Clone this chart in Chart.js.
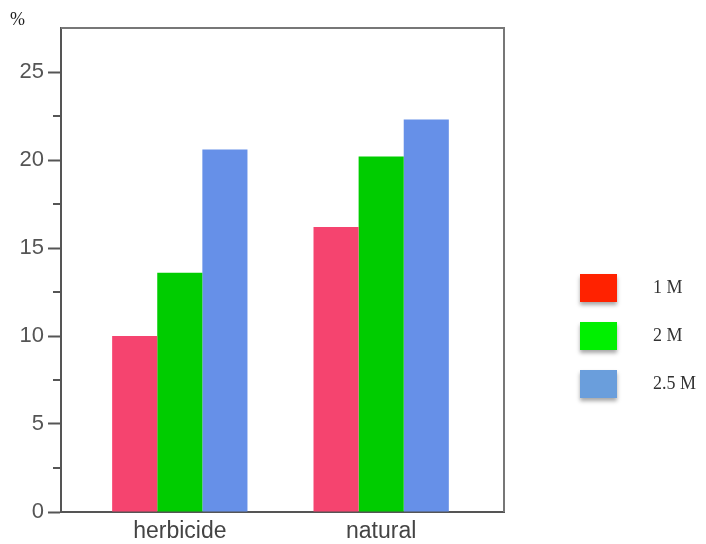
<!DOCTYPE html>
<html>
<head>
<meta charset="utf-8">
<script src="https://cdn.jsdelivr.net/npm/chart.js@4.4.1/dist/chart.umd.min.js"></script>
<style>
  html, body { margin: 0; padding: 0; background: #fff; }
  #wrap { width: 706px; height: 544px; }
</style>
</head>
<body>
<div id="wrap"><canvas id="myChart" width="706" height="544"></canvas></div>
<script>
// categorias e séries
const categorias = ['herbicide', 'natural'];
const series = ['1 M', '2 M', '2.5 M'];
const valores1M = [10.0, 16.2];
const valores2M = [13.6, 20.2];
const valores25M = [20.6, 22.3];
const coresBarras = ['#F5446F', '#00CC00', '#6690E8'];
const coresLegenda = ['#FF2200', '#00F000', '#6A9EDC'];
const yTicks = [0, 5, 10, 15, 20, 25];

function pontos(arr) {
    return arr.map((v, i) => ({ x: i, y: v }));
}

// plugin: moldura, ticks menores, "%" e legenda
const extras = {
    id: 'extras',
    afterDraw(chart) {
        const ctx = chart.ctx;
        const a = chart.chartArea;
        const y = chart.scales.y;
        ctx.save();
        // moldura superior e direita
        ctx.strokeStyle = '#777';
        ctx.lineWidth = 2;
        ctx.beginPath();
        ctx.moveTo(a.left, a.top);
        ctx.lineTo(a.right, a.top);
        ctx.lineTo(a.right, a.bottom);
        ctx.stroke();
        // ticks menores
        ctx.strokeStyle = '#555';
        ctx.lineWidth = 2;
        for (let v = 2.5; v < y.max; v += 5) {
            const py = Math.round(y.getPixelForValue(v));
            ctx.beginPath();
            ctx.moveTo(a.left - 8, py);
            ctx.lineTo(a.left, py);
            ctx.stroke();
        }
        // símbolo %
        ctx.fillStyle = '#222';
        ctx.font = '18px "Liberation Serif"';
        ctx.textBaseline = 'middle';
        ctx.textAlign = 'left';
        ctx.fillText('%', 10, 20);
        // legenda
        const lx = a.right + 76;
        series.forEach((s, i) => {
            const ly = 274 + i * 48;
            ctx.save();
            ctx.shadowColor = 'rgba(0,0,0,0.35)';
            ctx.shadowBlur = 4;
            ctx.shadowOffsetY = 3;
            ctx.fillStyle = coresLegenda[i];
            ctx.fillRect(lx, ly, 37, 28);
            ctx.restore();
            ctx.fillStyle = '#333';
            ctx.font = '18px "Liberation Serif"';
            ctx.fillText(s, lx + 73, ly + 14);
        });
        ctx.restore();
    }
};

const ctx = document.getElementById('myChart').getContext('2d');
const myChart = new Chart(ctx, {
    type: 'bar',
    data: {
        datasets: [
            { label: series[0], data: pontos(valores1M), backgroundColor: coresBarras[0] },
            { label: series[1], data: pontos(valores2M), backgroundColor: coresBarras[1] },
            { label: series[2], data: pontos(valores25M), backgroundColor: coresBarras[2] }
        ]
    },
    options: {
        responsive: false,
        animation: false,
        categoryPercentage: 0.672,
        barPercentage: 1,
        layout: {
            padding: { top: 28, right: 202, bottom: 0, left: 0 }
        },
        plugins: {
            legend: { display: false },
            tooltip: { enabled: false }
        },
        scales: {
            x: {
                type: 'linear',
                offset: false,
                min: -0.59,
                max: 1.61,
                afterBuildTicks: (scale) => {
                    scale.ticks = categorias.map((c, i) => ({ value: i }));
                },
                afterFit: (scale) => { scale.height = 32; },
                grid: { display: false, drawTicks: false, offset: false },
                border: { display: true, color: '#555', width: 2 },
                ticks: {
                    color: '#444',
                    padding: 6,
                    font: { family: 'Liberation Sans', size: 23 },
                    callback: (v) => categorias[v]
                }
            },
            y: {
                min: 0,
                max: 27.5,
                afterBuildTicks: (scale) => {
                    scale.ticks = yTicks.map(v => ({ value: v }));
                },
                afterFit: (scale) => { scale.width = 61; },
                grid: {
                    drawOnChartArea: false,
                    drawTicks: true,
                    tickLength: 13,
                    tickWidth: 2,
                    tickColor: '#555'
                },
                border: { display: true, color: '#555', width: 2 },
                ticks: {
                    color: '#555',
                    padding: 4,
                    font: { family: 'Liberation Sans', size: 22 }
                }
            }
        }
    },
    plugins: [extras]
});
</script>
</body>
</html>
